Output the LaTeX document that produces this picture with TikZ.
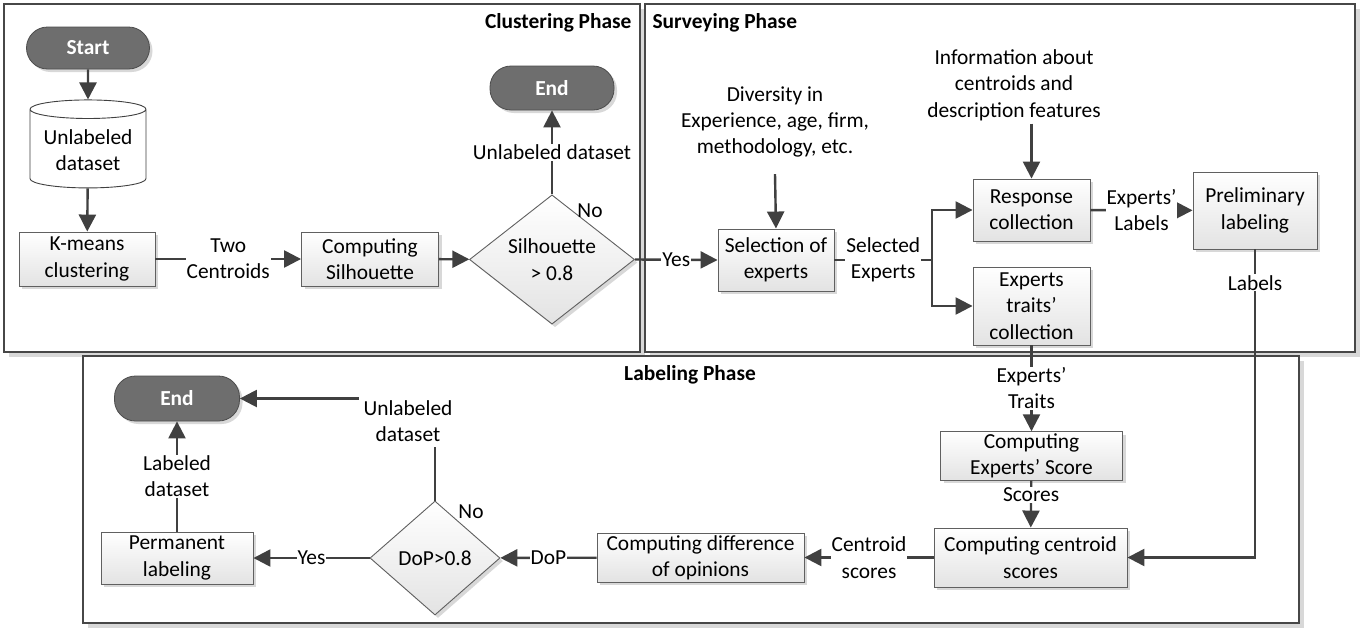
\documentclass[tikz,border=0pt]{standalone}
\usepackage{fontspec}
\setmainfont{Carlito}
\usetikzlibrary{shapes.geometric,shadows,arrows.meta,calc}
\definecolor{ink}{HTML}{404040}
\definecolor{termfill}{HTML}{6E6E6E}
\definecolor{frameline}{HTML}{474747}
\definecolor{shade}{HTML}{D8D8D8}
\newcommand{\diafont}{\fontsize{21.4}{26.3}\selectfont}

\begin{document}
\begin{tikzpicture}[x=1pt,y=-1pt,
  every node/.style={font=\diafont, text=black},
  frame/.style={draw=frameline, line width=1.2pt, fill=white,
    general shadow={shadow xshift=5pt, shadow yshift=-5pt, fill=shade}},
  proc/.style={draw=gray!75!black, line width=0.9pt, top color=white,
    bottom color=gray!22, align=center, inner sep=2pt,
    drop shadow={shadow xshift=3pt, shadow yshift=-3pt, fill=shade, opacity=1}},
  decision/.style={proc, diamond, inner sep=0pt},
  term/.style={rectangle, rounded corners=21pt, fill=termfill, draw=gray!60!black,
    line width=0.8pt, text=white, font=\diafont\bfseries,
    drop shadow={shadow xshift=3pt, shadow yshift=-3pt, fill=shade, opacity=1}},
  store/.style={cylinder, shape border rotate=90, aspect=0.2, draw=ink,
    line width=0.9pt, fill=white, align=center, inner sep=2pt},
  arr/.style={draw=ink, line width=2.4pt, -{Triangle[length=17pt,width=17pt]}},
  wire/.style={draw=ink, line width=2.4pt},
  lbl/.style={fill=white, inner sep=1pt, align=center},
  title/.style={font=\diafont\bfseries}
]
\useasboundingbox (0,0) rectangle (1369,627);

% phase frames
\draw[frame] (4,4) rectangle (640,352);
\draw[frame] (645,4) rectangle (1355,352);
\draw[frame] (83,356) rectangle (1299,623);

\node[title, anchor=east] at (635,23) {Clustering Phase};
\node[title, anchor=west] at (649,23) {Surveying Phase};
\node[title] at (690,375) {Labeling Phase};

% clustering phase
\node[term, minimum width=123pt, minimum height=42pt] (start) at (88,48) {Start};
\node[store, minimum width=116pt, minimum height=88pt] (udata) at (88,150) {Unlabeled\\dataset};
\node[proc, minimum width=136pt, minimum height=54pt] (km) at (87,259) {K-means\\clustering};
\node[proc, minimum width=137pt, minimum height=54pt] (cs) at (370,259) {Computing\\Silhouette};
\node[decision, minimum width=165pt, minimum height=113pt] (sil) at (552,259.5) {Silhouette\\> 0.8};
\node[term, minimum width=124pt, minimum height=44pt] (endA) at (552,88) {End};

% surveying phase
\node[align=center] (div) at (775,122) {Diversity in\\Experience, age, firm,\\methodology, etc.};
\node[proc, minimum width=116pt, minimum height=62pt] (sel) at (776,260) {Selection of\\experts};
\coordinate (split) at (932,260);
\node[align=center, inner sep=3pt] (info) at (1014,85) {Information about\\centroids and\\description features};
\node[proc, minimum width=117pt, minimum height=62pt] (resp) at (1031.5,210) {Response\\collection};
\node[proc, minimum width=117pt, minimum height=78pt] (traits) at (1031.5,306) {Experts\\traits’\\collection};
\node[proc, minimum width=124pt, minimum height=77pt] (prelim) at (1255,210.5) {Preliminary\\labeling};

% labeling phase
\node[proc, minimum width=182pt, minimum height=46pt] (ces) at (1031.5,456) {Computing\\Experts’ Score};
\node[proc, minimum width=193pt, minimum height=59pt] (ccs) at (1030.5,557.5) {Computing centroid\\scores};
\node[proc, minimum width=207pt, minimum height=49pt] (cdo) at (700.5,557.5) {Computing difference\\of opinions};
\node[decision, minimum width=130pt, minimum height=114pt] (dop) at (435,558) {DoP>0.8};
\node[proc, minimum width=152pt, minimum height=52pt] (perm) at (177,558) {Permanent\\labeling};
\node[term, minimum width=125pt, minimum height=45pt] (endB) at (177,398.5) {End};

% connectors: clustering
\draw[arr] (start) -- (udata);
\draw[arr] (udata) -- (km);
\draw[arr] (km) -- node[lbl]{Two\\Centroids} (cs);
\draw[arr] (cs) -- (sil);
\draw[arr] (sil.north) -- node[lbl]{Unlabeled dataset} (endA.south);
\node at (590,211) {No};
\draw[arr] (sil.east) -- node[lbl]{Yes} (sel.west);

% connectors: surveying
\draw[arr] ([yshift=-13pt]div.south) -- (sel.north);
\draw[wire] (sel.east) -- node[lbl]{Selected\\Experts} (split);
\draw[arr] (split) |- (resp.west);
\draw[arr] (split) |- (traits.west);
\draw[arr] (info.south -| resp.north) -- (resp.north);
\draw[arr] (resp) -- node[lbl]{Experts’\\Labels} (prelim);
\draw[arr] (prelim.south) |- node[lbl, pos=0.054]{Labels} (ccs.east);

% connectors: labeling
\draw[arr] (traits) -- node[lbl]{Experts’\\Traits} (ces);
\draw[arr] (ces) -- node[lbl, pos=0.3]{Scores} (ccs);
\draw[arr] (ccs) -- node[lbl]{Centroid\\scores} (cdo);
\draw[arr] (cdo) -- node[lbl]{DoP} (dop);
\draw[arr] (dop) -- node[lbl]{Yes} (perm);
\draw[arr] (perm) -- node[lbl]{Labeled\\dataset} (endB);
\draw[arr] (dop.north) |- (endB.east);
\node[lbl, inner sep=5pt] at (408,421) {Unlabeled\\dataset};
\node at (471,512) {No};
\end{tikzpicture}
\end{document}
